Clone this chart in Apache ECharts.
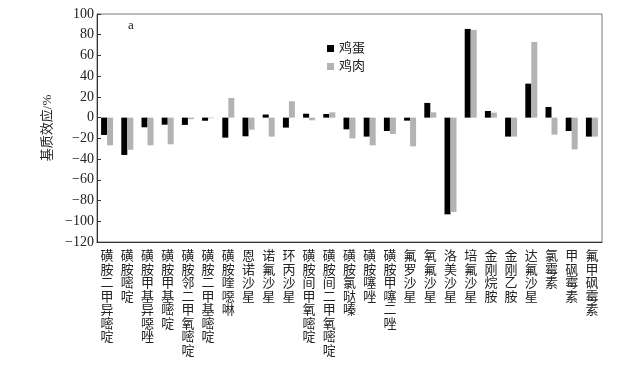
<!DOCTYPE html>
<html>
<head>
<meta charset="utf-8">
<script src="https://cdn.jsdelivr.net/npm/echarts@6/dist/echarts.min.js"></script>
<style>html,body{margin:0;padding:0;background:#fff}#c{width:630px;height:365px}</style>
</head>
<body>
<div id="c"></div>
<script>
const categories = ['磺胺二甲异嘧啶','磺胺嘧啶','磺胺甲基异噁唑','磺胺甲基嘧啶','磺胺邻二甲氧嘧啶','磺胺二甲基嘧啶','磺胺喹噁啉','恩诺沙星','诺氟沙星','环丙沙星','磺胺间甲氧嘧啶','磺胺间二甲氧嘧啶','磺胺氯哒嗪','磺胺噻唑','磺胺甲噻二唑','氟罗沙星','氧氟沙星','洛美沙星','培氟沙星','金刚烷胺','金刚乙胺','达氟沙星','氯霉素','甲砜霉素','氟甲砜霉素'];
const eggValues = [-16.7,-36,-9.3,-6.8,-7,-3,-19.3,-18,3,-9.6,3.8,3.5,-11.3,-18.3,-12.9,-2.9,14.2,-93.3,85.6,6.4,-18.3,32.8,10.3,-12.9,-18.3];
const chickenValues = [-26.7,-31,-26.7,-25.7,-1.5,-0.6,19,-11.6,-18.3,15.8,-2.6,5.1,-20,-26.7,-15.8,-27.7,5.1,-91,84.6,4.8,-18.3,73,-16.4,-30.6,-18.3];
const yTicks = [-120,-100,-80,-60,-40,-20,0,20,40,60,80,100];

const FF = "'Liberation Serif','Noto Sans CJK SC',serif";
const chart = echarts.init(document.getElementById('c'));
chart.setOption({
  animation: false,
  textStyle: {fontFamily: FF},
  grid: {left: 97, right: 28, top: 14, bottom: 123, show: true, borderColor: '#777', borderWidth: 1},
  legend: {
    orient: 'vertical', left: 322, top: 37, itemWidth: 7, itemHeight: 7, itemGap: 5,
    icon: 'rect', textStyle: {fontSize: 13, fontFamily: FF, color: '#222'},
    data: ['鸡蛋','鸡肉']
  },
  graphic: [{type: 'text', left: 128, top: 19, style: {text: 'a', fontSize: 13, fontFamily: FF, fill: '#222'}}],
  xAxis: {
    type: 'category', data: categories,
    axisLine: {onZero: false, lineStyle: {color: '#333'}},
    axisTick: {alignWithLabel: true, length: 5, lineStyle: {color: '#333'}},
    axisLabel: {interval: 0, fontSize: 13, lineHeight: 13.5, color: '#222', margin: 8,
      formatter: v => v.split('').join('\n')}
  },
  yAxis: {
    type: 'value', min: yTicks[0], max: yTicks[yTicks.length-1], interval: 20,
    name: '基质效应/%', nameLocation: 'middle', nameRotate: 90, nameGap: 42,
    nameTextStyle: {fontSize: 13, color: '#222', fontFamily: FF},
    axisLine: {show: true, lineStyle: {color: '#333'}},
    axisTick: {show: true, inside: true, length: 4, lineStyle: {color: '#333'}},
    splitLine: {show: false},
    axisLabel: {fontSize: 14, color: '#222', margin: 3, formatter: v => String(v).replace('-', '\u2212')}
  },
  series: [
    {name: '鸡蛋', type: 'bar', data: eggValues, barWidth: 6, barGap: '0%', itemStyle: {color: '#000'}},
    {name: '鸡肉', type: 'bar', data: chickenValues, barWidth: 6, barGap: '0%', itemStyle: {color: '#b3b3b3'}}
  ]
});
</script>
</body>
</html>
